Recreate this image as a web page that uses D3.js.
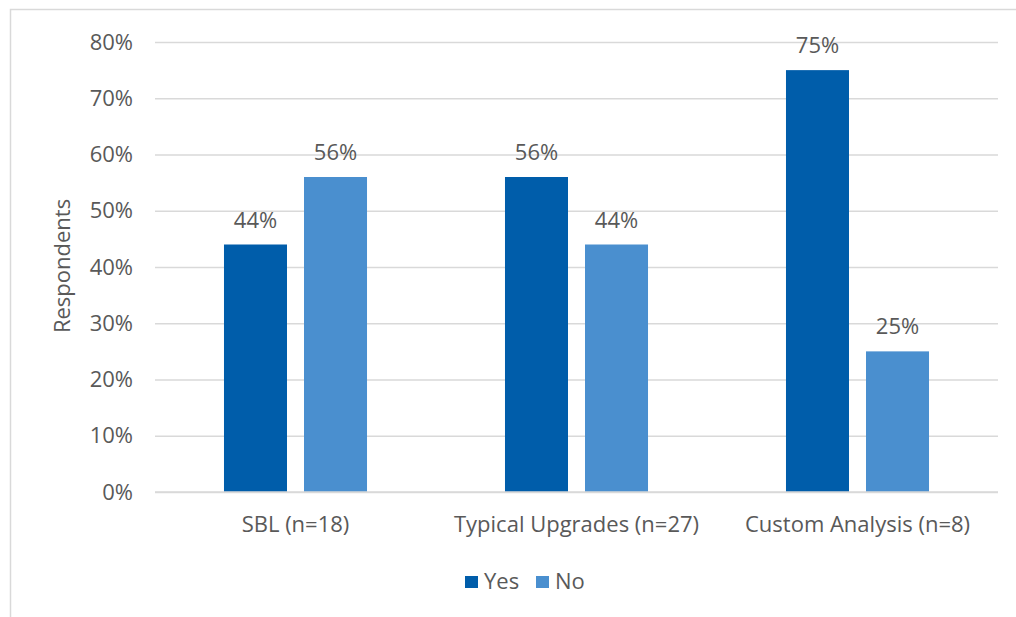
<!DOCTYPE html>
<html>
<head>
<meta charset="utf-8">
<script src="https://cdn.jsdelivr.net/npm/d3@7"></script>
<style>
  html, body { margin: 0; padding: 0; background: #fff; }
  svg { display: block; font-family: "Open Sans", "Noto Sans", sans-serif; }
</style>
</head>
<body>
<svg id="chart" width="1016" height="617"></svg>
<script>
// Share of respondents answering Yes / No, by analysis type
const categories = ["SBL (n=18)", "Typical Upgrades (n=27)", "Custom Analysis (n=8)"];
const seriesNames = ["Yes", "No"];
const yesValues = [0.44, 0.56, 0.75];
const noValues = [0.56, 0.44, 0.25];
const yTicks = [0, 0.1, 0.2, 0.3, 0.4, 0.5, 0.6, 0.7, 0.8];
const colors = ["#005DAA", "#4A8FCF"];

const FONT = "'Open Sans', 'Noto Sans', sans-serif";
const FS = 22;
const TEXT = "#595959";

const svg = d3.select("#chart");
const W = 1016, H = 617;
const plot = { left: 155, right: 998, top: 42, bottom: 492 };

// outer frame (top and left edges visible)
svg.append("path")
  .attr("d", `M10.5,${H} V9.5 H${W}`)
  .attr("fill", "none").attr("stroke", "#d9d9d9").attr("stroke-width", 1.5);

const x = d3.scaleBand().domain(categories)
  .range([plot.left, plot.right]).paddingInner(0.491).paddingOuter(0.2455);
const xInner = d3.scaleBand().domain(seriesNames)
  .range([0, x.bandwidth()]).paddingInner(0.2125);
const y = d3.scaleLinear().domain([0, 0.8]).range([plot.bottom, plot.top]);

// gridlines and value axis labels
const yAxis = d3.axisLeft(y).tickValues(yTicks)
  .tickSize(-(plot.right - plot.left)).tickPadding(22)
  .tickFormat(d3.format(".0%"));
const gy = svg.append("g").attr("transform", `translate(${plot.left},0)`).call(yAxis);
gy.select(".domain").remove();
gy.selectAll(".tick line").attr("stroke", "#d9d9d9").attr("stroke-width", 1.5);
gy.selectAll(".tick text").attr("fill", TEXT).attr("font-size", FS)
  .attr("font-family", FONT);

// bars
const rows = categories.map((c, i) => ({ cat: c, vals: [yesValues[i], noValues[i]] }));
const groups = svg.append("g").selectAll("g").data(rows).join("g")
  .attr("transform", d => `translate(${x(d.cat)},0)`);

groups.selectAll("rect")
  .data(d => d.vals.map((v, j) => ({ key: seriesNames[j], v, j })))
  .join("rect")
  .attr("x", d => xInner(d.key))
  .attr("width", xInner.bandwidth())
  .attr("y", d => y(d.v))
  .attr("height", d => y(0) - y(d.v))
  .attr("fill", d => colors[d.j]);

groups.selectAll("text.val")
  .data(d => d.vals.map((v, j) => ({ key: seriesNames[j], v, j })))
  .join("text").attr("class", "val")
  .attr("x", d => xInner(d.key) + xInner.bandwidth() / 2)
  .attr("y", d => y(d.v) - 17)
  .attr("text-anchor", "middle")
  .attr("fill", TEXT).attr("font-size", FS)
  .text(d => d3.format(".0%")(d.v));

// baseline
svg.append("line")
  .attr("x1", plot.left).attr("x2", plot.right)
  .attr("y1", y(0)).attr("y2", y(0))
  .attr("stroke", "#d9d9d9").attr("stroke-width", 1.5);

// category labels
const xAxis = d3.axisBottom(x).tickSize(0).tickPadding(24);
const gx = svg.append("g").attr("transform", `translate(0,${plot.bottom})`).call(xAxis);
gx.select(".domain").remove();
gx.selectAll(".tick text").attr("fill", TEXT).attr("font-size", FS)
  .attr("font-family", FONT);

// axis title
svg.append("text")
  .attr("transform", `translate(70,266) rotate(-90)`)
  .attr("text-anchor", "middle")
  .attr("fill", TEXT).attr("font-size", FS)
  .text("Respondents");

// legend
const legend = svg.append("g").attr("transform", "translate(465,581)");
const items = [{ name: "Yes", dx: 0 }, { name: "No", dx: 71 }];
items.forEach((it, i) => {
  const g = legend.append("g").attr("transform", `translate(${it.dx},0)`);
  g.append("rect").attr("x", 0).attr("y", -5).attr("width", 13).attr("height", 12).attr("fill", colors[i]);
  g.append("text").attr("x", 19).attr("y", 0).attr("dy", "0.35em")
    .attr("fill", TEXT).attr("font-size", FS).text(it.name);
});
</script>
</body>
</html>
